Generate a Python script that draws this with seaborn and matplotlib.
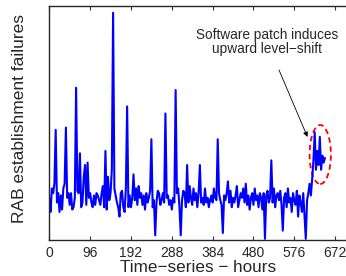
import numpy as np
import pandas as pd
import matplotlib
matplotlib.use('Agg')
import matplotlib.pyplot as plt
from matplotlib.patches import Ellipse
import seaborn as sns

#%% data (one value every 3 hours)
hours = np.arange(0, 649, 3)
failures = [
    18, 12, 22, 20, 24, 47, 16, 20, 12, 19, 13, 22, 24, 48, 18, 20,
    15, 20, 13, 14, 18, 65, 21, 20, 37, 14, 16, 27, 32, 15, 33, 18,
    20, 16, 14, 19, 15, 20, 19, 17, 15, 20, 23, 14, 38, 13, 27, 17,
    20, 30, 97, 22, 19, 16, 14, 10, 20, 21, 14, 12, 22, 57, 14, 19,
    14, 18, 28, 17, 22, 15, 23, 18, 20, 15, 19, 13, 20, 16, 18, 21,
    43, 14, 17, 2, 16, 21, 20, 15, 17, 20, 16, 54, 18, 19, 15, 17,
    13, 18, 16, 64, 20, 22, 14, 2, 17, 21, 20, 14, 32, 16, 23, 18,
    15, 22, 17, 20, 14, 20, 32, 16, 18, 15, 22, 16, 18, 14, 17, 19,
    16, 22, 18, 17, 43, 20, 17, 15, 3, 19, 17, 20, 25, 16, 21, 14,
    18, 16, 19, 23, 14, 17, 20, 18, 22, 16, 24, 15, 19, 13, 18, 20,
    15, 22, 17, 19, 14, 20, 18, 13, 20, 0.5, 19, 21, 16, 18, 34, 16,
    22, 14, 19, 20, 17, 21, 15, 4, 18, 20, 14, 22, 16, 18, 12, 20,
    17, 15, 21, 10, 19, 16, 12, 20, 10, 0.5, 17, 20, 24, 19, 26, 34, 46,
    30, 38, 32, 44, 30, 36, 33, 35,
]
df = pd.DataFrame({'hour': hours, 'failures': failures})

xticks = [0, 96, 192, 288, 384, 480, 576, 672]

#%% plot
sns.set_style('white')
plt.rcParams['font.family'] = ['Liberation Sans', 'DejaVu Sans']

fig = plt.figure(figsize=(3.46, 2.76), dpi=100)
ax = fig.add_axes([0.1425, 0.1304, 0.8605, 0.849])

sns.lineplot(data=df, x='hour', y='failures', color='blue', lw=1.5, ax=ax)

ax.set_xlim(0, 700)
ax.set_ylim(0, 100)
ax.set_xticks(xticks)
ax.set_yticks([])
ax.tick_params(axis='x', direction='in', length=3, top=True, bottom=True,
               labelsize=10, pad=4, color='0.2')
for s in ax.spines.values():
    s.set_color('0.15')
    s.set_linewidth(1.0)
ax.set_xlabel('Time\u2212series \u2212 hours', fontsize=12.3, labelpad=0)
ax.set_ylabel('RAB establishment failures', fontsize=12.5, labelpad=16)
ax.yaxis.label.set_y(0.52)

ax.annotate('Software patch induces\nupward level\u2212shift',
            xy=(607, 44), xytext=(512, 84.5), ha='center', va='center',
            fontsize=9.8, linespacing=1.08,
            arrowprops=dict(arrowstyle='-|>', color='black', lw=0.6,
                            mutation_scale=7, shrinkA=8, shrinkB=0))
ax.add_patch(Ellipse((637, 36.5), 50, 25.2, fill=False, ec='red',
                     lw=1.3, ls=(0, (3, 2))))

plt.savefig('out.png', dpi=100)
